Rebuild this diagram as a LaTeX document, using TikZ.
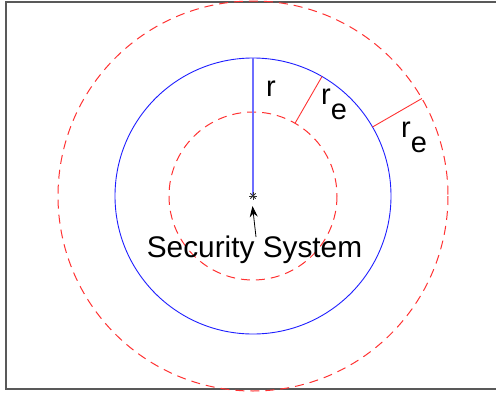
\documentclass[tikz,border=0pt]{standalone}
\usepackage{fontspec}
\setmainfont{Liberation Sans}
\usetikzlibrary{arrows.meta}
\definecolor{framegray}{gray}{0.35}
\definecolor{myred}{RGB}{255,50,50}
\definecolor{myblue}{RGB}{30,30,255}
\definecolor{lightblue}{RGB}{110,110,255}
\begin{document}
\begin{tikzpicture}[x=1pt,y=-1pt,
  redash/.style={myred, line width=1pt, dash pattern=on 9pt off 6pt},
  bluel/.style={myblue, line width=0.9pt},
  redl/.style={myred, line width=0.9pt},
  astk/.style={gray!40!black, line width=0.8pt},
  lbl/.style={font=\fontsize{29}{33}\selectfont, inner sep=0, anchor=base west},
  ptr/.style={-{Stealth[length=11pt,width=8pt]}, line width=0.8pt, black}]
\useasboundingbox (0,0) rectangle (496,394);
\coordinate (c) at (253,196);
\draw[framegray, line width=2pt] (497,2) -- (6,2) -- (6,389) -- (497,389);
\draw[redash] (c) circle[radius=195];
\draw[redash] (c) circle[radius=84];
\draw[bluel] (c) circle[radius=138];
\coordinate (top) at (253,58);
\draw[lightblue, line width=1.3pt] (c) -- (top);
\coordinate (a1) at (322,76.5);
\coordinate (a2) at (295,123.3);
\coordinate (b1) at (421.9,98.5);
\coordinate (b2) at (372.5,127);
\draw[redl] (a1) -- (a2);
\draw[redl] (b1) -- (b2);
\draw[astk] (c) ++(-3.8,0) -- ++(7.6,0);
\draw[astk] (c) ++(-2.7,-2.7) -- ++(5.4,5.4);
\draw[astk] (c) ++(-2.7,2.7) -- ++(5.4,-5.4);
\draw[astk] (c) ++(0,-3.8) -- ++(0,7.6);
\node[lbl] (r0) at (266,96.5) {r};
\node[lbl] (r1) at (321,104.5) {r\raisebox{-14.5pt}{e}};
\node[lbl] (r2) at (401,137) {r\raisebox{-15pt}{e}};
\node[font=\fontsize{29.8}{34}\selectfont, anchor=base, inner sep=0] (sec) at (254.5,257.5) {Security System};
\coordinate (tail) at (256,237);
\coordinate (tip) at (252.5,206);
\draw[ptr] (tail) -- (tip);
\end{tikzpicture}
\end{document}
